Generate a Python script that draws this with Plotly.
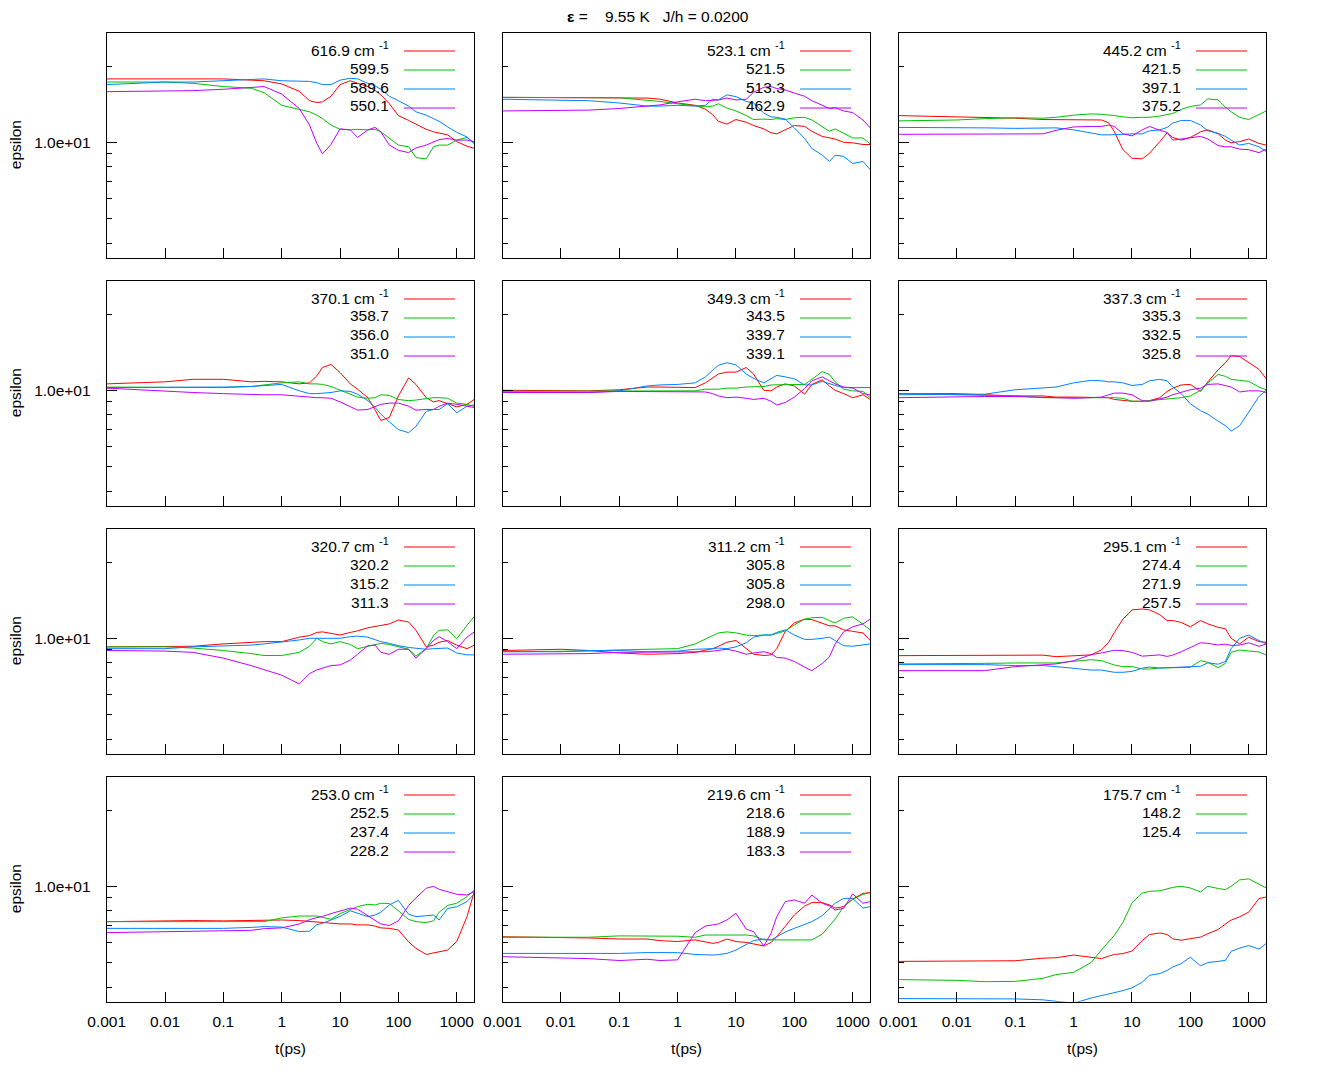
import math
import plotly.graph_objects as go

# ---------------- data ----------------
t_ps = [0.001, 0.01, 0.03, 0.1, 0.3, 0.5, 1, 2, 3, 4, 5, 7, 10, 15, 20, 30, 40, 50, 70,
        100, 150, 200, 300, 400, 500, 700, 1000, 1500, 2000]

x_tick_vals = [0.001, 0.01, 0.1, 1, 10, 100, 1000]
x_tick_text = ["0.001", "0.01", "0.1", "1", "10", "100", "1000"]
y_tick_vals = [10]
y_tick_text = ["1.0e+01"]
y_minor_vals = [4, 5, 6, 7, 8, 9, 20]

# panel 1
eps_616_9 = [17.8, 17.8, 17.8, 17.8, 17.6, 17.5, 17.0, 15.9, 14.6, 14.35, 14.45, 15.2, 16.9, 17.5, 17.1, 16.6, 16.0, 15.4, 14.2, 12.75, 12.2, 11.8, 11.25, 11.0, 10.85, 10.7, 10.06, 9.65, 9.47]
eps_599_5 = [17.3, 17.3, 17.1, 16.6, 16.35, 15.7, 14.0, 13.45, 13.2, 12.8, 12.4, 11.7, 11.25, 11.2, 11.25, 11.2, 11.25, 11.0, 10.35, 9.75, 9.6, 8.7, 8.6, 9.6, 9.75, 9.75, 10.2, 10.45, 9.9]
eps_589_6 = [16.9, 17.3, 17.3, 17.5, 17.6, 17.8, 17.5, 17.4, 17.4, 17.2, 16.9, 16.9, 17.6, 17.9, 17.8, 17.1, 16.7, 16.2, 15.2, 14.6, 13.9, 13.2, 12.8, 12.4, 12.1, 11.5, 10.95, 10.5, 9.9]
eps_550_1 = [15.85, 15.9, 16.0, 16.2, 16.5, 16.6, 15.5, 13.6, 11.7, 9.9, 9.0, 9.8, 11.3, 11.2, 10.45, 11.2, 11.45, 11.0, 9.75, 9.3, 9.1, 9.5, 9.75, 10.06, 10.25, 10.35, 10.2, 10.2, 10.06]
# panel 2
eps_523_1 = [15.05, 15.0, 15.0, 14.95, 14.95, 14.8, 14.3, 14.0, 13.5, 12.85, 12.1, 11.8, 12.3, 12.0, 11.65, 11.3, 10.9, 10.8, 11.2, 11.65, 11.55, 11.05, 10.55, 10.4, 10.3, 10.0, 9.95, 9.8, 9.8]
eps_521_5 = [15.05, 15.05, 15.05, 15.0, 14.65, 14.5, 14.2, 14.0, 13.8, 13.9, 14.2, 13.65, 13.3, 12.75, 12.3, 12.35, 12.3, 12.4, 12.3, 12.5, 12.55, 12.25, 11.5, 11.05, 11.3, 10.85, 10.4, 10.4, 9.85]
eps_513_3 = [14.8, 14.6, 14.6, 14.3, 13.9, 13.9, 14.0, 13.9, 14.0, 14.8, 14.7, 15.4, 15.15, 14.5, 14.3, 13.05, 12.6, 12.55, 12.35, 11.4, 10.35, 9.45, 8.9, 8.4, 8.9, 8.8, 8.25, 8.4, 7.8]
eps_462_9 = [13.3, 13.35, 13.4, 13.6, 13.85, 14.05, 14.45, 14.8, 14.6, 14.6, 14.7, 14.95, 14.7, 14.8, 15.75, 16.5, 16.6, 16.3, 16.1, 15.65, 15.2, 14.6, 14.05, 13.6, 13.7, 13.3, 13.1, 12.25, 11.4]
# panel 3
eps_445_2 = [12.75, 12.6, 12.6, 12.45, 12.3, 12.3, 12.25, 12.25, 12.25, 11.95, 11.0, 9.35, 8.65, 8.6, 9.05, 10.06, 10.9, 10.45, 10.2, 10.45, 11.0, 11.2, 10.8, 10.2, 9.95, 10.06, 10.3, 9.9, 9.75]
eps_421_5 = [12.15, 12.25, 12.4, 12.5, 12.45, 12.55, 12.8, 12.95, 12.9, 12.85, 12.75, 12.6, 12.5, 12.55, 12.55, 12.7, 12.85, 13.0, 13.5, 13.85, 14.05, 14.85, 14.7, 13.75, 13.2, 12.55, 12.3, 12.85, 13.3]
eps_397_1 = [11.45, 11.45, 11.4, 11.35, 11.4, 11.4, 11.2, 10.85, 10.7, 10.7, 10.7, 10.75, 10.8, 10.8, 11.1, 11.2, 11.45, 11.9, 12.2, 12.2, 11.7, 11.1, 10.85, 10.55, 10.2, 9.75, 9.9, 9.6, 9.2]
eps_375_2 = [10.75, 10.75, 10.75, 10.75, 10.8, 11.15, 11.5, 11.55, 11.55, 11.7, 11.55, 10.8, 10.6, 11.2, 11.55, 11.15, 10.95, 10.2, 10.3, 10.4, 10.55, 10.3, 9.7, 9.6, 9.6, 9.4, 9.35, 9.1, 9.4]
# panel 4
eps_370_1 = [10.6, 10.8, 11.05, 11.05, 10.8, 10.85, 10.8, 10.6, 10.7, 11.4, 12.3, 12.65, 11.75, 10.6, 10.1, 9.35, 8.35, 7.6, 7.8, 9.5, 11.2, 10.55, 9.35, 9.0, 9.1, 8.85, 8.6, 8.8, 9.2]
eps_358_7 = [10.3, 10.25, 10.25, 10.25, 10.35, 10.5, 10.7, 10.8, 10.6, 10.6, 10.55, 10.35, 10.0, 9.65, 9.4, 9.3, 9.35, 9.6, 9.55, 9.2, 9.1, 9.15, 9.3, 9.35, 9.35, 9.3, 8.9, 8.8, 8.65]
eps_356_0 = [10.25, 10.25, 10.25, 10.3, 10.35, 10.45, 10.55, 9.95, 9.7, 9.7, 9.75, 9.8, 9.95, 9.9, 9.65, 9.1, 8.55, 8.05, 7.5, 7.0, 6.8, 7.2, 8.25, 8.4, 8.4, 8.85, 8.15, 8.65, 8.75]
eps_351_0 = [10.2, 9.9, 9.8, 9.7, 9.6, 9.6, 9.6, 9.45, 9.4, 9.35, 9.35, 9.3, 9.0, 8.65, 8.35, 8.4, 8.65, 8.8, 8.9, 8.9, 8.65, 8.35, 8.4, 8.4, 8.65, 8.9, 8.8, 8.65, 8.55]
# panel 5
eps_349_3 = [10.0, 9.95, 9.95, 10.05, 10.3, 10.3, 10.25, 10.25, 10.7, 11.2, 11.6, 11.8, 11.8, 12.3, 11.6, 10.0, 9.95, 10.3, 10.6, 10.4, 9.65, 10.55, 11.0, 10.4, 10.0, 9.7, 9.35, 9.6, 9.2]
eps_343_5 = [9.9, 9.9, 9.9, 9.95, 9.95, 9.95, 9.95, 9.95, 10.1, 10.1, 10.1, 10.2, 10.2, 10.3, 10.3, 10.35, 10.5, 10.5, 10.5, 10.55, 10.55, 11.05, 11.85, 11.55, 10.8, 10.1, 9.95, 9.9, 9.35]
eps_339_7 = [9.8, 9.8, 9.8, 9.95, 10.4, 10.5, 10.55, 10.7, 11.3, 12.0, 12.55, 12.85, 12.6, 11.6, 11.15, 10.7, 11.1, 11.45, 11.3, 11.1, 10.5, 10.5, 10.85, 10.6, 10.45, 10.25, 10.25, 10.3, 10.25]
eps_339_1 = [9.8, 9.8, 9.8, 9.9, 9.9, 9.9, 9.9, 9.9, 9.85, 9.7, 9.5, 9.35, 9.4, 9.3, 9.2, 9.3, 9.05, 8.75, 8.95, 9.4, 10.15, 10.9, 11.3, 10.9, 10.6, 10.3, 10.2, 9.7, 9.6]
# panel 6
eps_337_3 = [9.7, 9.7, 9.6, 9.5, 9.5, 9.4, 9.4, 9.4, 9.4, 9.35, 9.2, 9.1, 9.05, 9.05, 9.1, 9.35, 9.9, 10.2, 10.5, 10.55, 9.9, 10.8, 12.05, 12.85, 13.7, 13.6, 12.85, 12.1, 11.1]
eps_335_3 = [9.7, 9.6, 9.5, 9.5, 9.35, 9.35, 9.4, 9.4, 9.4, 9.4, 9.35, 9.3, 9.05, 9.05, 9.1, 9.2, 9.2, 9.3, 9.35, 9.5, 10.0, 10.7, 11.55, 11.35, 11.05, 10.95, 10.85, 10.3, 10.05]
eps_332_5 = [9.6, 9.65, 9.65, 10.05, 10.2, 10.3, 10.7, 10.95, 10.9, 10.8, 10.8, 10.7, 10.45, 10.55, 10.9, 11.05, 10.9, 10.3, 9.7, 8.85, 8.3, 8.05, 7.55, 7.25, 6.9, 7.25, 8.2, 9.45, 10.0]
eps_325_8 = [9.35, 9.45, 9.45, 9.45, 9.35, 9.3, 9.3, 9.35, 9.4, 9.6, 9.75, 9.75, 9.6, 9.1, 9.05, 9.25, 9.4, 9.6, 9.85, 10.05, 10.2, 10.55, 10.6, 10.45, 10.3, 9.85, 9.95, 9.95, 9.8]
# panel 7
eps_320_7 = [9.25, 9.3, 9.3, 9.5, 9.65, 9.7, 9.7, 10.1, 10.25, 10.55, 10.6, 10.45, 10.3, 10.55, 10.7, 11.0, 11.15, 11.25, 11.4, 11.8, 11.6, 10.75, 9.25, 9.4, 9.65, 9.8, 9.4, 9.1, 9.4]
eps_320_2 = [9.25, 9.25, 9.15, 8.95, 8.7, 8.55, 8.55, 8.8, 9.3, 10.0, 9.7, 9.5, 9.7, 9.45, 9.1, 9.3, 9.45, 9.55, 9.45, 9.25, 9.05, 8.5, 9.1, 10.25, 10.75, 10.8, 9.95, 11.25, 12.2]
eps_315_2 = [9.1, 9.1, 9.25, 9.3, 9.4, 9.5, 9.65, 9.85, 10.0, 10.0, 10.0, 10.0, 10.0, 10.15, 10.2, 10.1, 9.9, 9.7, 9.55, 9.35, 9.2, 9.15, 9.05, 9.1, 9.1, 9.15, 8.75, 8.6, 8.6]
eps_311_3 = [8.95, 8.9, 8.8, 8.35, 7.8, 7.5, 7.15, 6.6, 7.25, 7.5, 7.6, 7.8, 7.85, 8.2, 8.65, 9.35, 9.4, 8.8, 8.65, 9.05, 9.05, 8.35, 9.1, 9.8, 10.15, 9.7, 9.1, 10.1, 10.6]
# panel 8
eps_311_2 = [8.95, 9.05, 8.95, 8.75, 8.65, 8.65, 8.7, 8.8, 8.95, 9.1, 9.3, 9.65, 9.8, 9.1, 8.65, 8.55, 8.6, 9.1, 10.65, 11.5, 11.9, 11.85, 11.5, 11.2, 11.2, 10.8, 10.65, 10.5, 9.8]
eps_305_8a = [8.85, 8.85, 8.9, 9.0, 9.05, 9.05, 9.1, 9.5, 9.9, 10.2, 10.5, 10.6, 10.5, 10.3, 10.25, 10.3, 10.3, 10.45, 10.7, 11.3, 11.9, 12.05, 12.1, 11.75, 11.5, 12.0, 12.15, 11.35, 10.8]
eps_305_8b = [8.85, 8.85, 8.95, 8.95, 8.85, 8.85, 8.9, 9.05, 9.05, 9.1, 9.15, 9.1, 9.25, 9.6, 10.1, 10.3, 10.3, 10.55, 10.8, 10.3, 9.9, 9.9, 10.0, 10.1, 9.8, 9.35, 9.3, 9.45, 9.5]
eps_298_0 = [8.65, 8.65, 8.7, 8.8, 8.8, 8.8, 8.8, 8.85, 8.85, 8.9, 8.95, 9.05, 8.9, 8.65, 8.75, 8.85, 8.7, 8.4, 8.35, 8.1, 7.7, 7.45, 7.95, 8.45, 9.5, 10.6, 11.1, 11.4, 11.9]
# panel 9
eps_295_1 = [8.54, 8.54, 8.54, 8.54, 8.58, 8.46, 8.54, 8.6, 9.0, 9.65, 10.55, 11.9, 12.95, 13.05, 12.95, 12.4, 11.75, 11.75, 11.55, 11.1, 11.75, 11.4, 11.05, 10.9, 10.0, 9.5, 10.1, 9.7, 9.65]
eps_274_4 = [7.92, 7.92, 7.96, 7.99, 7.99, 7.99, 8.11, 8.23, 8.16, 7.96, 7.84, 7.73, 7.73, 7.56, 7.56, 7.63, 7.63, 7.68, 7.68, 7.68, 8.16, 8.04, 7.65, 7.96, 8.8, 8.99, 8.91, 8.83, 8.59]
eps_271_9 = [7.87, 7.87, 7.87, 7.8, 7.8, 7.73, 7.63, 7.49, 7.49, 7.4, 7.34, 7.34, 7.4, 7.62, 7.7, 7.63, 7.66, 7.68, 7.68, 7.72, 7.75, 8.0, 7.9, 8.1, 9.1, 10.0, 10.3, 9.8, 9.5]
eps_257_5 = [7.45, 7.45, 7.45, 7.73, 7.85, 7.92, 8.15, 8.62, 8.75, 8.9, 8.97, 8.94, 8.8, 8.5, 8.54, 8.6, 8.48, 8.58, 8.85, 9.21, 9.6, 9.55, 9.41, 9.48, 9.37, 9.4, 9.6, 9.3, 9.5]
# panel 10
eps_253_0 = [7.25, 7.32, 7.32, 7.3, 7.32, 7.36, 7.36, 7.32, 7.25, 7.21, 7.19, 7.15, 7.1, 7.1, 7.04, 7.04, 6.96, 6.85, 6.82, 6.72, 6.03, 5.69, 5.38, 5.45, 5.52, 5.6, 6.05, 7.58, 9.53]
eps_252_5 = [7.25, 7.25, 7.21, 7.21, 7.25, 7.25, 7.5, 7.63, 7.63, 7.63, 7.54, 7.41, 7.8, 8.1, 8.31, 8.49, 8.44, 8.57, 8.55, 8.0, 7.4, 7.25, 7.19, 7.3, 7.9, 8.4, 8.57, 9.1, 9.67]
eps_237_4 = [6.82, 6.82, 6.82, 6.82, 6.88, 6.93, 6.9, 6.62, 6.65, 7.05, 7.14, 7.36, 7.6, 8.0, 7.82, 7.59, 7.7, 7.9, 8.44, 8.8, 7.75, 7.59, 7.65, 7.7, 7.36, 8.18, 8.3, 8.7, 9.33]
eps_228_2 = [6.56, 6.6, 6.62, 6.65, 6.7, 6.8, 6.85, 7.1, 7.38, 7.52, 7.6, 7.8, 8.0, 8.2, 8.12, 7.65, 7.3, 7.1, 7.0, 7.3, 8.4, 9.0, 9.82, 10.0, 9.73, 9.53, 9.3, 9.24, 9.53]
# panel 11
eps_219_6 = [6.32, 6.29, 6.25, 6.19, 6.19, 6.1, 6.05, 6.14, 6.05, 5.95, 6.0, 6.19, 6.05, 6.0, 5.92, 5.81, 6.0, 6.32, 6.95, 7.7, 8.35, 8.62, 8.62, 8.44, 8.2, 8.31, 8.9, 9.38, 9.44]
eps_218_6 = [6.29, 6.29, 6.29, 6.37, 6.37, 6.37, 6.35, 6.29, 6.42, 6.42, 6.42, 6.42, 6.42, 6.42, 6.37, 6.14, 6.14, 6.14, 6.14, 6.14, 6.14, 6.14, 6.47, 6.97, 7.41, 8.31, 8.88, 9.29, 9.44]
eps_188_9 = [5.43, 5.43, 5.43, 5.43, 5.47, 5.47, 5.47, 5.38, 5.35, 5.35, 5.37, 5.43, 5.6, 5.9, 6.1, 6.19, 6.14, 6.32, 6.6, 6.82, 7.04, 7.25, 7.65, 8.15, 8.57, 8.96, 8.96, 8.2, 8.31]
eps_183_3 = [5.27, 5.22, 5.18, 5.09, 5.15, 5.09, 5.12, 6.56, 6.97, 7.04, 7.1, 7.36, 7.82, 6.77, 6.62, 5.81, 6.52, 7.59, 8.7, 8.83, 8.57, 9.24, 8.57, 8.36, 8.06, 8.18, 9.33, 8.57, 8.7]
# panel 12
eps_175_7 = [5.05, 5.05, 5.05, 5.08, 5.2, 5.22, 5.35, 5.24, 5.18, 5.3, 5.38, 5.42, 5.55, 6.1, 6.45, 6.54, 6.45, 6.2, 6.12, 6.21, 6.3, 6.5, 6.75, 7.1, 7.35, 7.58, 7.9, 8.95, 9.07]
eps_148_2 = [4.28, 4.25, 4.2, 4.21, 4.33, 4.48, 4.57, 5.0, 5.6, 6.05, 6.4, 7.2, 8.6, 9.4, 9.55, 9.6, 9.75, 9.9, 10.0, 9.85, 9.5, 10.0, 9.8, 9.7, 10.0, 10.6, 10.7, 10.2, 9.85]
eps_125_4 = [3.6, 3.6, 3.6, 3.59, 3.56, 3.52, 3.45, 3.62, 3.7, 3.76, 3.79, 3.87, 3.97, 4.18, 4.45, 4.52, 4.65, 4.8, 4.95, 5.25, 4.85, 5.0, 5.05, 5.1, 5.53, 5.7, 5.83, 5.65, 5.94]

panels = [
    (["616.9", "599.5", "589.6", "550.1"], [eps_616_9, eps_599_5, eps_589_6, eps_550_1]),
    (["523.1", "521.5", "513.3", "462.9"], [eps_523_1, eps_521_5, eps_513_3, eps_462_9]),
    (["445.2", "421.5", "397.1", "375.2"], [eps_445_2, eps_421_5, eps_397_1, eps_375_2]),
    (["370.1", "358.7", "356.0", "351.0"], [eps_370_1, eps_358_7, eps_356_0, eps_351_0]),
    (["349.3", "343.5", "339.7", "339.1"], [eps_349_3, eps_343_5, eps_339_7, eps_339_1]),
    (["337.3", "335.3", "332.5", "325.8"], [eps_337_3, eps_335_3, eps_332_5, eps_325_8]),
    (["320.7", "320.2", "315.2", "311.3"], [eps_320_7, eps_320_2, eps_315_2, eps_311_3]),
    (["311.2", "305.8", "305.8", "298.0"], [eps_311_2, eps_305_8a, eps_305_8b, eps_298_0]),
    (["295.1", "274.4", "271.9", "257.5"], [eps_295_1, eps_274_4, eps_271_9, eps_257_5]),
    (["253.0", "252.5", "237.4", "228.2"], [eps_253_0, eps_252_5, eps_237_4, eps_228_2]),
    (["219.6", "218.6", "188.9", "183.3"], [eps_219_6, eps_218_6, eps_188_9, eps_183_3]),
    (["175.7", "148.2", "125.4"], [eps_175_7, eps_148_2, eps_125_4]),
]

title_text = "<b>ε</b> =\u00a0\u00a0\u00a0 9.55 K\u00a0\u00a0\u00a0J/h = 0.0200"

# ---------------- styling / layout ----------------
W, H = 1320, 1080
colors = ["#ff0000", "#00c000", "#0080ff", "#c000ff"]
FONT = "Liberation Sans, Arial, sans-serif"
FS = 15.5
col_px = [(106.7, 474.0), (502.5, 870.0), (898.5, 1266.0)]
row_px = [(32.7, 257.7), (280.7, 505.7), (528.7, 753.7), (776.7, 1001.7)]

fig = go.Figure()
layout = dict(
    template="none",
    width=W, height=H,
    margin=dict(l=0, r=0, t=0, b=0, pad=0, autoexpand=False),
    paper_bgcolor="white", plot_bgcolor="white",
    showlegend=False,
    font=dict(family=FONT, size=FS, color="black"),
)
annotations = []
shapes = []

for k, (labels, series) in enumerate(panels):
    r, c = divmod(k, 3)
    xl, xr = col_px[c]
    yt, yb = row_px[r]
    sfx = "" if k == 0 else str(k + 1)
    layout["xaxis" + sfx] = dict(
        type="log", range=[-3, math.log10(1980)],
        domain=[xl / W, xr / W], anchor="y" + sfx, automargin=False,
        showline=True, linecolor="black", linewidth=1, mirror=True,
        ticks="inside", ticklen=10, tickwidth=1, tickcolor="black",
        tickmode="array", tickvals=x_tick_vals, ticktext=x_tick_text,
        showticklabels=(r == 3), ticklabelstandoff=6,
        tickfont=dict(family=FONT, size=FS, color="black"),
        showgrid=False, zeroline=False, fixedrange=True,
    )
    layout["yaxis" + sfx] = dict(
        type="log", range=[math.log10(3.5), math.log10(27.1)],
        domain=[1 - yb / H, 1 - yt / H], anchor="x" + sfx, automargin=False,
        showline=True, linecolor="black", linewidth=1, mirror=True,
        ticks="inside", ticklen=10, tickwidth=1, tickcolor="black",
        tickmode="array", tickvals=y_tick_vals, ticktext=y_tick_text,
        minor=dict(tickmode="array", tickvals=y_minor_vals, ticks="inside",
                   ticklen=5, tickwidth=1, tickcolor="black", showgrid=False),
        showticklabels=(c == 0), ticklabelstandoff=12,
        tickfont=dict(family=FONT, size=FS, color="black"),
        showgrid=False, zeroline=False, fixedrange=True,
    )
    for i, (lab, vals) in enumerate(zip(labels, series)):
        fig.add_trace(go.Scatter(
            x=t_ps, y=vals, mode="lines",
            line=dict(color=colors[i], width=1),
            xaxis="x" + sfx, yaxis="y" + sfx, hoverinfo="skip",
        ))
        ly = yt + 18.3 + 19 * i
        text = lab + (" cm <sup>-1</sup>" if i == 0 else "")
        annotations.append(dict(
            x=(xr - 83) / W, y=1 - (ly - 2) / H, xref="paper", yref="paper",
            xanchor="right", yanchor="middle", text=text, showarrow=False,
            font=dict(family=FONT, size=FS, color="black"),
        ))
        shapes.append(dict(
            type="line", xref="paper", yref="paper",
            x0=(xr - 70) / W, x1=(xr - 19) / W, y0=1 - ly / H, y1=1 - ly / H,
            line=dict(color=colors[i], width=1),
        ))
    if c == 0:
        annotations.append(dict(
            x=15 / W, y=1 - (yt + yb) / 2 / H, xref="paper", yref="paper",
            xanchor="center", yanchor="middle", text="epsilon", textangle=-90,
            showarrow=False, font=dict(family=FONT, size=FS, color="black"),
        ))
    if r == 3:
        annotations.append(dict(
            x=(xl + xr) / 2 / W, y=1 - 1048 / H, xref="paper", yref="paper",
            xanchor="center", yanchor="middle", text="t(ps)",
            showarrow=False, font=dict(family=FONT, size=FS, color="black"),
        ))

annotations.append(dict(
    x=658 / W, y=1 - 17 / H, xref="paper", yref="paper",
    xanchor="center", yanchor="middle", text=title_text, showarrow=False,
    font=dict(family=FONT, size=FS, color="black"),
))

layout["annotations"] = annotations
layout["shapes"] = shapes
fig.update_layout(**layout)
fig.write_html("out.html")
